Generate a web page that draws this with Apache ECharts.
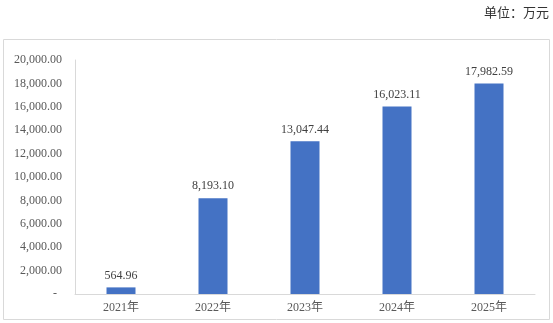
<!DOCTYPE html>
<html><head><meta charset="utf-8">
<script src="https://cdn.jsdelivr.net/npm/echarts@6/dist/echarts.min.js"></script>
<style>html,body{margin:0;padding:0;background:#fff}#c{width:553px;height:323px}</style>
</head><body><div id="c"></div>
<script>
const categories = ['2021年','2022年','2023年','2024年','2025年'];
const values = [564.96, 8193.10, 13047.44, 16023.11, 17982.59];
const unitText = '单位：万元';
const fontFam = '"Liberation Serif", "Noto Sans CJK SC", serif';
function fmt(v){
  return v.toLocaleString('en-US',{minimumFractionDigits:2,maximumFractionDigits:2});
}
const chart = echarts.init(document.getElementById('c'));
chart.setOption({
  animation:false,
  graphic:[
    {type:'rect',shape:{x:3.5,y:39.5,width:546,height:280},style:{fill:'none',stroke:'#d9d9d9',lineWidth:1}},
    {type:'text',right:4,top:6,style:{text:unitText,font:'13px "Noto Sans CJK SC", serif',fill:'#333333'}}
  ],
  grid:{left:75,right:18,top:60,bottom:29},
  xAxis:{type:'category',data:categories,
    axisLine:{lineStyle:{color:'#d9d9d9'}},axisTick:{show:false},
    axisLabel:{color:'#595959',fontSize:12,fontFamily:fontFam,margin:8}},
  yAxis:{type:'value',min:0,max:20000,interval:2000,
    axisLine:{show:true,lineStyle:{color:'#d9d9d9'}},splitLine:{show:false},axisTick:{show:false},
    axisLabel:{color:'#595959',fontSize:12,fontFamily:fontFam,margin:13,
      formatter:v=> v===0 ? '{d|-}' : fmt(v),
      rich:{d:{color:'#595959',fontSize:12,fontFamily:fontFam,padding:[0,5,0,0]}}}},
  series:[{type:'bar',data:values,barWidth:29,itemStyle:{color:'#4472C4'},
    label:{show:true,position:'top',color:'#404040',fontSize:12,fontFamily:fontFam,distance:6,formatter:p=>fmt(p.value)}}]
});
</script></body></html>
